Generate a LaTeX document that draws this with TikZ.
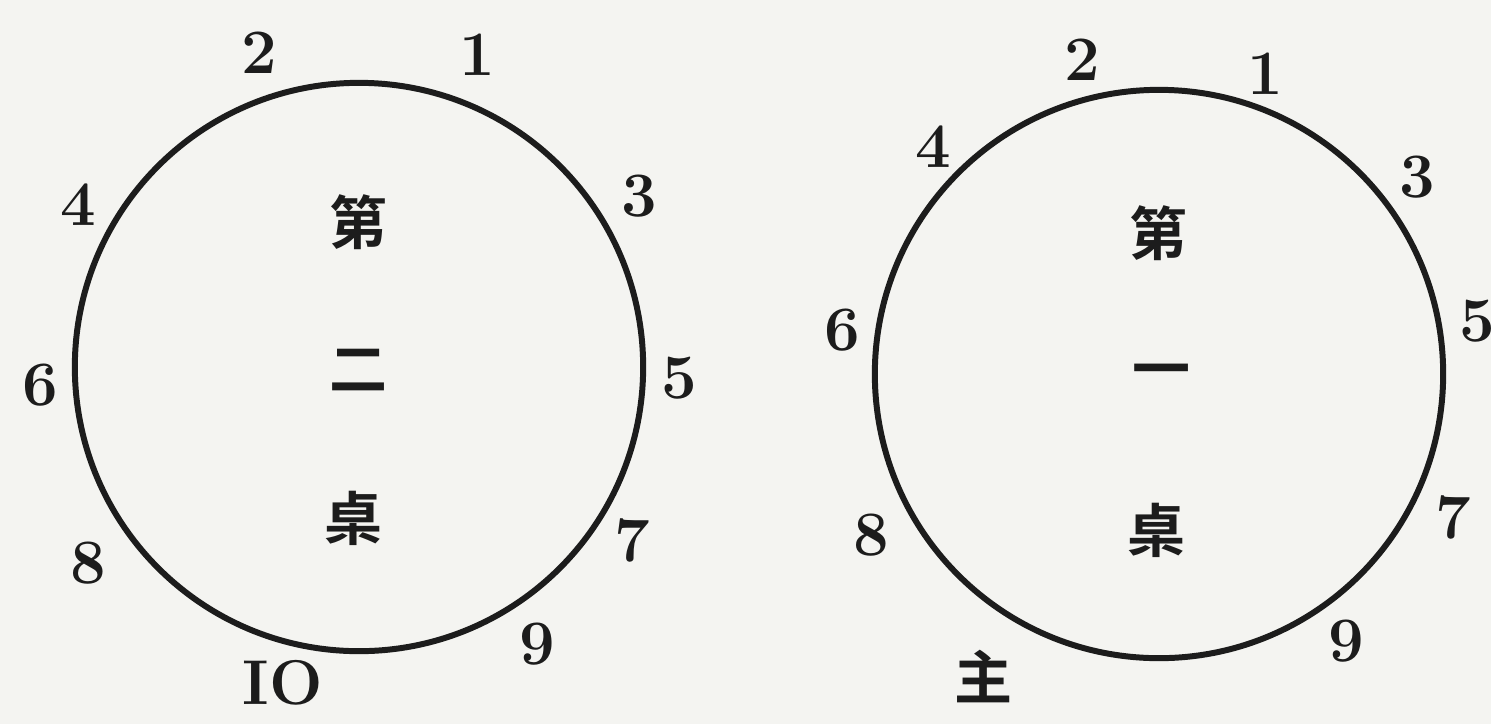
\documentclass[tikz,border=0pt]{standalone}
\usepackage{fontspec}
\usepackage{tikz}
\usetikzlibrary{positioning}
\newfontfamily\cjk{Noto Sans CJK TC}[BoldFont={* Bold}]
\definecolor{paper}{RGB}{244,244,241}
\definecolor{ink}{RGB}{28,28,28}
\tikzstyle{tablebox} = [circle, 
minimum size=5.68cm, 
inner sep=0pt, 
draw=ink, 
line width=1.7pt]
\tikzstyle{seat} = [inner sep=1pt, 
text=ink, 
font=\fontsize{18}{20}\selectfont\bfseries]
\tikzstyle{tname} = [inner sep=1pt, 
text=ink, 
font=\fontsize{16.5}{20}\selectfont\cjk\bfseries]

\begin{document}
\begin{tikzpicture}[x=0.01cm, y=-0.01cm]

        % --- Fondo ---
        \fill[paper] (0,0) rectangle (1491,724);
        \useasboundingbox (0,0) rectangle (1491,724);

        % --- Mesa 2 (izquierda) ---
        \node (tableB) [tablebox] at (359,367) {};
        \node (nameB1) [tname] at (359,222) {第};
        \node (nameB2) [tname] at (359,370) {二};
        \node (nameB3) [tname] at (354,518) {桌};

        \node (seatB1) [seat] at (477,55) {1};
        \node (seatB2) [seat] at (259,53) {2};
        \node (seatB3) [seat] at (639,196) {3};
        \node (seatB4) [seat] at (78,205) {4};
        \node (seatB5) [seat] at (679,378) {5};
        \node (seatB6) [seat] at (40,385) {6};
        \node (seatB7) [seat] at (632,540) {7};
        \node (seatB8) [seat] at (88,563) {8};
        \node (seatB9) [seat] at (537,644) {9};
        \node (seatB10) [seat] at (283,683) {IO};

        % --- Mesa 1 (derecha) ---
        \node (tableA) [tablebox] at (1159,374) {};
        \node (nameA1) [tname] at (1158,233) {第};
        \node (nameA2) [tname] at (1161,377) {一};
        \node (nameA3) [tname] at (1156,530) {桌};

        \node (seatA1) [seat] at (1265,74) {1};
        \node (seatA2) [seat] at (1082,60) {2};
        \node (seatA3) [seat] at (1417,177) {3};
        \node (seatA4) [seat] at (933,147) {4};
        \node (seatA5) [seat] at (1477,321) {5};
        \node (seatA6) [seat] at (842,330) {6};
        \node (seatA7) [seat] at (1453,517) {7};
        \node (seatA8) [seat] at (871,535) {8};
        \node (seatA9) [seat] at (1346,641) {9};
        \node (host) [tname] at (983,676) {主};

\end{tikzpicture}
\end{document}
